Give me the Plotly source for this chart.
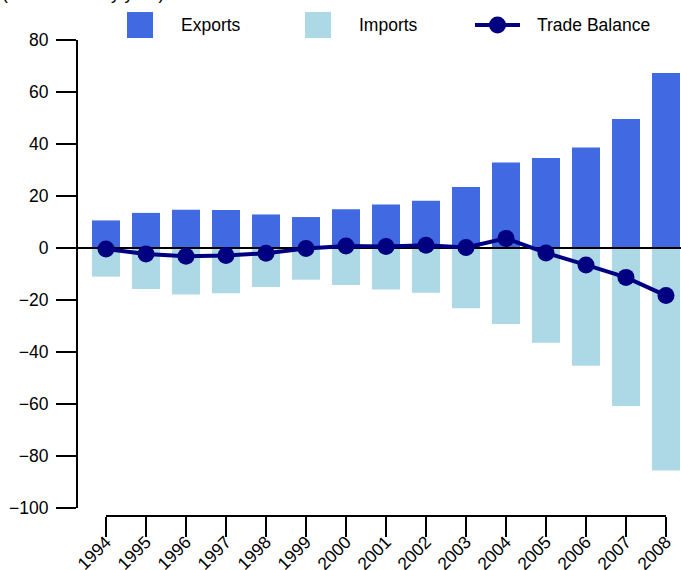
import plotly.graph_objects as go

years = [1994, 1995, 1996, 1997, 1998, 1999, 2000, 2001, 2002, 2003, 2004, 2005, 2006, 2007, 2008]
exports = [10.6, 13.5, 14.7, 14.6, 12.9, 11.9, 14.9, 16.7, 18.2, 23.5, 32.9, 34.6, 38.7, 49.6, 67.3]
imports = [-11.0, -15.8, -17.9, -17.4, -15.0, -12.2, -14.2, -16.0, -17.2, -23.2, -29.2, -36.4, -45.3, -60.8, -85.6]
trade_balance = [-0.4, -2.3, -3.2, -2.9, -2.0, -0.2, 0.8, 0.6, 1.1, 0.2, 3.7, -1.9, -6.5, -11.3, -18.3]
y_ticks = [-100, -80, -60, -40, -20, 0, 20, 40, 60, 80]
legend_names = ["Exports", "Imports", "Trade Balance"]
title_text = "(Billion USD by year)"

EXP_C = "#4169E1"
IMP_C = "#ADD8E6"
TB_C = "#000080"
FONT = "Liberation Sans, Arial, sans-serif"
FS = 17.5

W, H = 681, 570
ML, MR, MT, MB = 77, 0, 40, 54
PW = W - ML - MR
PH = H - MT - MB

x_range = [years[0] - 0.725, years[-1] + 0.375]
y_range = [-103.077, y_ticks[-1]]


def xp(px):
    return (px - ML) / PW


def yp(py):
    return (H - MB - py) / PH


fig = go.Figure()
fig.add_trace(go.Bar(x=years, y=exports, name=legend_names[0], marker=dict(color=EXP_C, line=dict(width=0)),
                     width=0.7, showlegend=False))
fig.add_trace(go.Bar(x=years, y=imports, name=legend_names[1], marker=dict(color=IMP_C, line=dict(width=0)),
                     width=0.7, showlegend=False))
# zero reference line (drawn above bars, below the balance line)
fig.add_trace(go.Scatter(x=x_range, y=[0, 0], mode="lines", line=dict(color="black", width=2),
                         hoverinfo="skip", showlegend=False))
fig.add_trace(go.Scatter(x=years, y=trade_balance, name=legend_names[2], mode="lines+markers",
                         line=dict(color=TB_C, width=4), marker=dict(color=TB_C, size=17),
                         showlegend=False))

shapes = [
    # y spine
    dict(type="line", xref="paper", yref="y", x0=0, x1=0, y0=y_ticks[0], y1=y_ticks[-1],
         line=dict(color="black", width=2)),
    # x spine
    dict(type="line", xref="x", yref="paper", x0=years[0], x1=years[-1], y0=0, y1=0,
         line=dict(color="black", width=2)),
    # legend handles
    dict(type="rect", xref="paper", yref="paper", x0=xp(127), x1=xp(153), y0=yp(38), y1=yp(12),
         fillcolor=EXP_C, line=dict(width=0)),
    dict(type="rect", xref="paper", yref="paper", x0=xp(305), x1=xp(331), y0=yp(38), y1=yp(12),
         fillcolor=IMP_C, line=dict(width=0)),
    dict(type="line", xref="paper", yref="paper", x0=xp(475), x1=xp(520), y0=yp(25), y1=yp(25),
         line=dict(color=TB_C, width=4)),
    dict(type="circle", xref="paper", yref="paper", x0=xp(489), x1=xp(506), y0=yp(33.5), y1=yp(16.5),
         fillcolor=TB_C, line=dict(width=0)),
]

annotations = [
    dict(text=legend_names[0], xref="paper", yref="paper", x=xp(179), y=yp(25), xanchor="left",
         yanchor="middle", showarrow=False, font=dict(family=FONT, size=FS, color="black")),
    dict(text=legend_names[1], xref="paper", yref="paper", x=xp(357), y=yp(25), xanchor="left",
         yanchor="middle", showarrow=False, font=dict(family=FONT, size=FS, color="black")),
    dict(text=legend_names[2], xref="paper", yref="paper", x=xp(535), y=yp(25), xanchor="left",
         yanchor="middle", showarrow=False, font=dict(family=FONT, size=FS, color="black")),
    dict(text=title_text, xref="paper", yref="paper", x=xp(0), y=yp(5), xanchor="left",
         yanchor="bottom", showarrow=False, font=dict(family=FONT, size=FS, color="black")),
]

fig.update_layout(
    template="none",
    width=W, height=H,
    margin=dict(l=ML, r=MR, t=MT, b=MB, pad=0, autoexpand=False),
    paper_bgcolor="white", plot_bgcolor="white",
    barmode="relative",
    font=dict(family=FONT, size=FS, color="black"),
    shapes=shapes, annotations=annotations,
    showlegend=False,
    hovermode=False,
    xaxis=dict(range=x_range, tickmode="array", tickvals=years, ticktext=[str(y) for y in years],
               tickangle=-45, ticks="outside", ticklen=20, tickwidth=2, tickcolor="black",
               ticklabelstandoff=-12,
               showline=False, showgrid=False, zeroline=False, fixedrange=True, automargin=False,
               tickfont=dict(family=FONT, size=FS)),
    yaxis=dict(range=y_range, tickmode="array", tickvals=y_ticks,
               ticktext=[("\u2212" + str(-v)) if v < 0 else str(v) for v in y_ticks],
               ticks="outside", ticklen=20, tickwidth=2, tickcolor="black", ticklabelstandoff=4,
               showline=False, showgrid=False, zeroline=False, fixedrange=True, automargin=False,
               tickfont=dict(family=FONT, size=FS)),
)

fig.write_html("out.html", config={"displayModeBar": False},
               post_script="document.body.style.margin='0';document.body.style.padding='0';")
